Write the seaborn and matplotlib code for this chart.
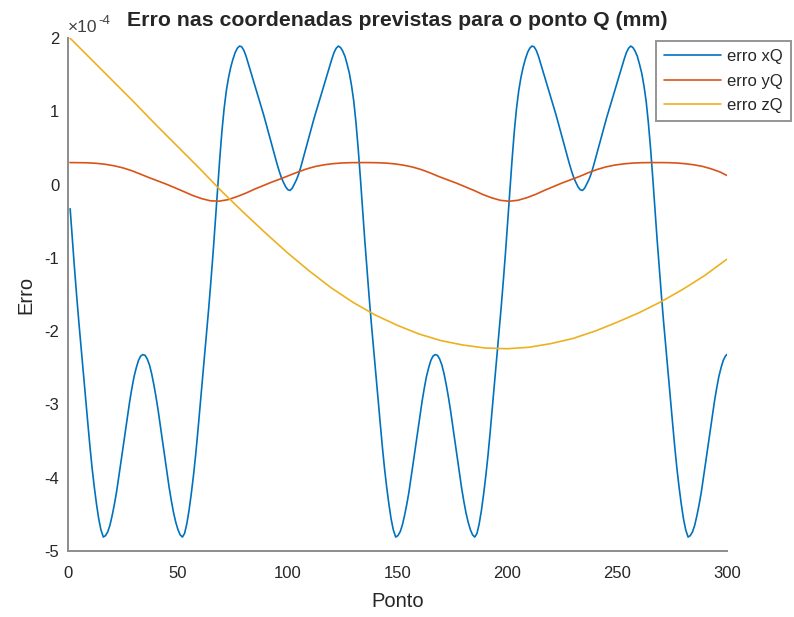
import matplotlib
matplotlib.use('Agg')
import matplotlib.pyplot as plt
import seaborn as sns
import pandas as pd
from matplotlib.ticker import FuncFormatter

# values, in units of 1e-4 mm

# erro xQ, read in four stretches (start, two full periods, end)
erro_xq_inicio = [-0.33, -0.75, -1.15, -1.53, -1.89, -2.23, -2.57, -2.91, -3.24, -3.57,
                  -3.87, -4.13, -4.36, -4.56, -4.71]
erro_xq_p1 = [
    -4.81, -4.79, -4.74, -4.65, -4.52, -4.37, -4.20, -4.00, -3.79, -3.58,
    -3.36, -3.15, -2.96, -2.78, -2.62, -2.50, -2.40, -2.34, -2.32, -2.33,
    -2.38, -2.46, -2.58, -2.73, -2.90, -3.09, -3.30, -3.51, -3.73, -3.94,
    -4.14, -4.32, -4.48, -4.61, -4.71, -4.78, -4.81, -4.76, -4.63, -4.45,
    -4.23, -3.98, -3.70, -3.38, -3.04, -2.71, -2.37, -2.03, -1.68, -1.31,
    -0.92, -0.50, -0.07, 0.35, 0.73, 1.04, 1.28, 1.46, 1.60, 1.71,
    1.80, 1.86, 1.89, 1.88, 1.83, 1.75, 1.65, 1.55, 1.45, 1.35,
    1.25, 1.15, 1.05, 0.95, 0.84, 0.73, 0.62, 0.51, 0.40, 0.29,
    0.19, 0.10, 0.03, -0.03, -0.07, -0.08, -0.05, 0.01, 0.07, 0.15,
    0.25, 0.36, 0.47, 0.58, 0.69, 0.80, 0.91, 1.01, 1.11, 1.21,
    1.31, 1.41, 1.51, 1.61, 1.71, 1.80, 1.86, 1.89, 1.87, 1.82,
    1.75, 1.64, 1.52, 1.35, 1.14, 0.85, 0.50, 0.10, -0.33, -0.75,
    -1.15, -1.53, -1.89, -2.23, -2.57, -2.91, -3.24, -3.57, -3.87, -4.13,
    -4.36, -4.56, -4.71,
]
erro_xq_p2 = [
    -4.81, -4.79, -4.74, -4.65, -4.52, -4.37, -4.20, -4.00, -3.79, -3.58,
    -3.36, -3.15, -2.96, -2.78, -2.62, -2.50, -2.40, -2.34, -2.32, -2.33,
    -2.38, -2.46, -2.58, -2.73, -2.90, -3.09, -3.30, -3.51, -3.73, -3.94,
    -4.14, -4.32, -4.48, -4.61, -4.71, -4.78, -4.81, -4.76, -4.63, -4.45,
    -4.23, -3.98, -3.70, -3.38, -3.04, -2.71, -2.37, -2.03, -1.68, -1.31,
    -0.92, -0.50, -0.07, 0.35, 0.73, 1.04, 1.28, 1.46, 1.60, 1.71,
    1.80, 1.86, 1.89, 1.88, 1.83, 1.75, 1.65, 1.55, 1.45, 1.35,
    1.25, 1.15, 1.05, 0.95, 0.84, 0.73, 0.62, 0.51, 0.40, 0.29,
    0.19, 0.10, 0.03, -0.03, -0.07, -0.08, -0.05, 0.01, 0.07, 0.15,
    0.25, 0.36, 0.47, 0.58, 0.69, 0.80, 0.91, 1.01, 1.11, 1.21,
    1.31, 1.41, 1.51, 1.61, 1.71, 1.80, 1.86, 1.89, 1.87, 1.82,
    1.75, 1.64, 1.52, 1.35, 1.14, 0.85, 0.50, 0.10, -0.33, -0.75,
    -1.15, -1.53, -1.89, -2.23, -2.57, -2.91, -3.24, -3.57, -3.87, -4.13,
    -4.36, -4.56, -4.71,
]
erro_xq_fim = [-4.81, -4.79, -4.74, -4.65, -4.52, -4.37, -4.20, -4.00, -3.79, -3.58,
               -3.36, -3.15, -2.96, -2.78, -2.62, -2.50, -2.40, -2.34, -2.32]

x_xq = ([round(1.1 + i, 1) for i in range(len(erro_xq_inicio))]
        + [round(16.2 + i, 1) for i in range(len(erro_xq_p1))]
        + [round(149.3 + i, 1) for i in range(len(erro_xq_p2))]
        + [round(282.4 + i, 1) for i in range(len(erro_xq_fim) - 1)] + [300])
erro_xq = erro_xq_inicio + erro_xq_p1 + erro_xq_p2 + erro_xq_fim

x_yq = list(range(1, 300, 4)) + [300]
erro_yq = [
    0.300, 0.299, 0.297, 0.290, 0.277, 0.257, 0.229, 0.191, 0.144, 0.095,
    0.050, 0.004, -0.046, -0.098, -0.150, -0.192, -0.222, -0.226, -0.206, -0.165,
    -0.118, -0.063, -0.014, 0.035, 0.079, 0.127, 0.174, 0.216, 0.249, 0.271,
    0.286, 0.295, 0.299, 0.300, 0.300, 0.298, 0.293, 0.282, 0.264, 0.239,
    0.204, 0.159, 0.109, 0.064, 0.019, -0.031, -0.081, -0.136, -0.181, -0.215,
    -0.228, -0.214, -0.179, -0.134, -0.079, -0.029, 0.021, 0.066, 0.111, 0.162,
    0.206, 0.241, 0.266, 0.282, 0.293, 0.298, 0.300, 0.300, 0.299, 0.295,
    0.285, 0.270, 0.248, 0.214, 0.171, 0.125,
]

x_zq = [1] + list(range(10, 301, 10))
erro_zq = [
    2.00, 1.73, 1.43, 1.13, 0.82, 0.52, 0.22, -0.09, -0.38, -0.66,
    -0.93, -1.18, -1.41, -1.61, -1.78, -1.92, -2.04, -2.13, -2.19, -2.23,
    -2.24, -2.22, -2.17, -2.10, -2.00, -1.88, -1.75, -1.60, -1.43, -1.24,
    -1.02,
]

series = ['erro xQ', 'erro yQ', 'erro zQ']
colors = ['#0072BD', '#D95319', '#EDB120']
scale = 1e-4

df = pd.concat([
    pd.DataFrame({'Ponto': x_xq, 'Erro': [v * scale for v in erro_xq], 'serie': series[0]}),
    pd.DataFrame({'Ponto': x_yq, 'Erro': [v * scale for v in erro_yq], 'serie': series[1]}),
    pd.DataFrame({'Ponto': x_zq, 'Erro': [v * scale for v in erro_zq], 'serie': series[2]}),
])

sns.set_style('white')
plt.rcParams['font.family'] = ['Liberation Sans', 'DejaVu Sans']

fig = plt.figure(figsize=(7.94, 6.17), dpi=100)
ax = fig.add_axes([0.0853, 0.107, 0.830, 0.8314])

sns.lineplot(data=df, x='Ponto', y='Erro', hue='serie', hue_order=series,
             palette=colors, estimator=None, sort=False, linewidth=1.2, ax=ax)

ax.set_xlim(0, 300)
ax.set_ylim(-5 * scale, 2 * scale)
ax.set_xticks(range(0, 301, 50))
ax.set_yticks([v * scale for v in range(-5, 3)])
ax.yaxis.set_major_formatter(FuncFormatter(lambda v, p: '%d' % round(v / scale)))

text_col = '#262626'
axis_grey = '#8c8c8c'
for side in ['top', 'right']:
    ax.spines[side].set_visible(False)
for side in ['left', 'bottom']:
    ax.spines[side].set_color(axis_grey)
    ax.spines[side].set_linewidth(1.4)
ax.tick_params(direction='in', length=4.3, width=1.0, color=axis_grey,
               labelcolor=text_col, labelsize=12)
ax.tick_params(axis='x', pad=11)
ax.tick_params(axis='y', pad=6)

ax.set_xlabel('Ponto', fontsize=14.5, color=text_col, va='center')
ax.xaxis.set_label_coords(0.5, -0.099)
ax.set_ylabel('Erro', fontsize=14.5, color=text_col, ha='center', va='center')
ax.yaxis.set_label_coords(-0.064, 0.5)
ax.set_title('Erro nas coordenadas previstas para o ponto Q (mm)',
             fontsize=15.3, fontweight='bold', pad=9)

# exponent label as in the original
fig.text(68 / 794, 1 - 32 / 617, '\u00d710', fontsize=12.5, color='#404040', va='baseline')
fig.text(98 / 794, 1 - 24 / 617, '-4', fontsize=9.5, color='#404040', va='baseline')

handles, labels = ax.get_legend_handles_labels()
leg = ax.legend(handles, labels, loc='upper left',
                bbox_to_anchor=(656 / 794, 1 - 41 / 617),
                bbox_transform=fig.transFigure, fontsize=12,
                frameon=True, fancybox=False, edgecolor='#7a7a7a',
                handlelength=3.4, handletextpad=0.35, labelspacing=0.56,
                borderpad=0.5, borderaxespad=0)
leg.get_frame().set_linewidth(1.4)
for t in leg.get_texts():
    t.set_color(text_col)

fig.savefig('out.png', dpi=100)
